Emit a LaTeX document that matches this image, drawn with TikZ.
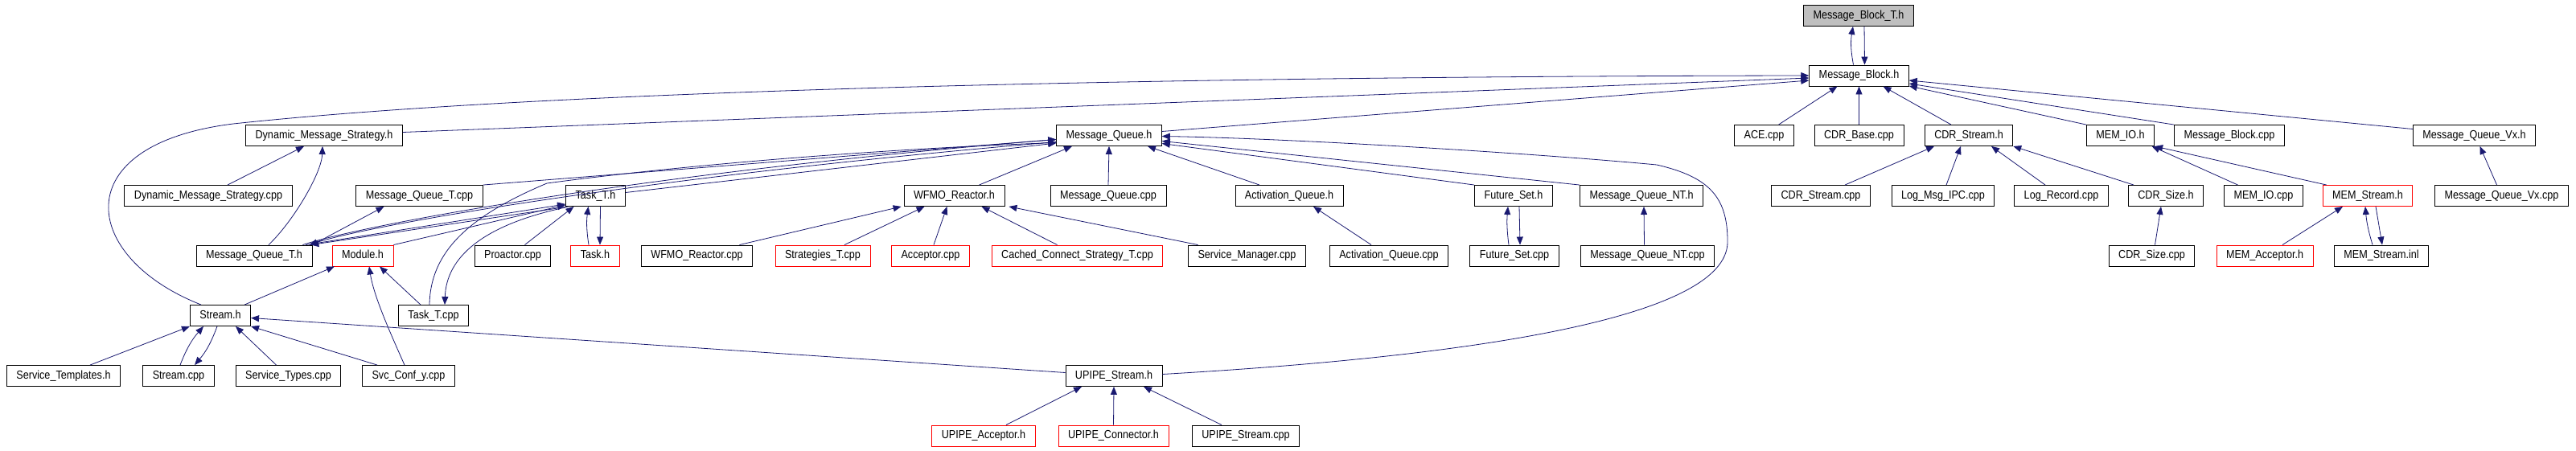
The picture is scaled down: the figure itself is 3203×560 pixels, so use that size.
\documentclass[tikz,border=0pt]{standalone}
\usepackage{fontspec}
\setmainfont{Liberation Sans}[FakeStretch=0.87]
\usetikzlibrary{arrows.meta}
\definecolor{edgeblue}{HTML}{191970}
\definecolor{boxred}{HTML}{FF0000}
\tikzset{
  filebox/.style={draw=black, line width=0.9pt, fill=white, minimum height=26pt,
    inner xsep=12pt, inner ysep=0pt, text height=10.5pt, text depth=3pt,
    font=\fontsize{14.5}{16}\selectfont}
}
\tikzset{
  redfile/.style={filebox, draw=boxred}
}
\tikzset{
  incl/.style={->, draw=edgeblue, line width=0.8pt}
}

\begin{document}
\begin{tikzpicture}[>={Triangle[length=10pt,width=8pt]}, x=1pt, y=-1pt]
  \useasboundingbox (0,0) rectangle (3203,560);
  % rows 0 and 1
  \node[filebox, fill=black!25] (mbt) at (2311,19.5) {Message\_Block\_T.h};
  \node[filebox] (mb) at (2311.5,94) {Message\_Block.h};
  % row 2
  \node[filebox] (dmsh)   at (403,168.5)  {Dynamic\_Message\_Strategy.h};
  \node[filebox] (mqh)    at (1379,168.5) {Message\_Queue.h};
  \node[filebox] (ace)    at (2193.5,168.5) {ACE.cpp};
  \node[filebox] (cdrbase) at (2311.5,168.5) {CDR\_Base.cpp};
  \node[filebox] (cdrh)   at (2448,168.5) {CDR\_Stream.h};
  \node[filebox] (memioh) at (2636.5,168.5) {MEM\_IO.h};
  \node[filebox] (mbcpp)  at (2772,168.5) {Message\_Block.cpp};
  \node[filebox] (mqvxh)  at (3076.5,168.5) {Message\_Queue\_Vx.h};
  % row 3
  \node[filebox] (dmscpp)   at (259,243.5)  {Dynamic\_Message\_Strategy.cpp};
  \node[filebox] (mqtcpp)   at (521.5,243.5) {Message\_Queue\_T.cpp};
  \node[filebox] (taskth)   at (740.5,243.5) {Task\_T.h};
  \node[filebox] (wfmoh)    at (1186.5,243.5) {WFMO\_Reactor.h};
  \node[filebox] (mqcpp)    at (1378,243.5) {Message\_Queue.cpp};
  \node[filebox] (actqh)    at (1603,243.5) {Activation\_Queue.h};
  \node[filebox] (fseth)    at (1882,243.5) {Future\_Set.h};
  \node[filebox] (mqnth)    at (2041,243.5) {Message\_Queue\_NT.h};
  \node[filebox] (cdrcpp)   at (2264,243.5) {CDR\_Stream.cpp};
  \node[filebox] (logipc)   at (2416,243.5) {Log\_Msg\_IPC.cpp};
  \node[filebox] (logrec)   at (2563,243.5) {Log\_Record.cpp};
  \node[filebox] (cdrsizeh) at (2693,243.5) {CDR\_Size.h};
  \node[filebox] (memiocpp) at (2814.5,243.5) {MEM\_IO.cpp};
  \node[redfile] (memsh)    at (2944,243.5) {MEM\_Stream.h};
  \node[filebox] (mqvxcpp)  at (3110.5,243.5) {Message\_Queue\_Vx.cpp};
  % row 4
  \node[filebox] (mqth)       at (316,318)  {Message\_Queue\_T.h};
  \node[redfile] (moduleh)    at (451,318)  {Module.h};
  \node[filebox] (proactor)   at (637.5,318) {Proactor.cpp};
  \node[redfile] (taskh)      at (740,318)  {Task.h};
  \node[filebox] (wfmocpp)    at (866.5,318) {WFMO\_Reactor.cpp};
  \node[redfile] (stratcpp)   at (1023,318) {Strategies\_T.cpp};
  \node[redfile] (acccpp)     at (1157,318) {Acceptor.cpp};
  \node[redfile] (cachedcpp)  at (1339.5,318) {Cached\_Connect\_Strategy\_T.cpp};
  \node[filebox] (svcmgr)     at (1550.5,318) {Service\_Manager.cpp};
  \node[filebox] (actqcpp)    at (1727,318) {Activation\_Queue.cpp};
  \node[filebox] (fsetcpp)    at (1883,318) {Future\_Set.cpp};
  \node[filebox] (mqntcpp)    at (2048.5,318) {Message\_Queue\_NT.cpp};
  \node[filebox] (cdrsizecpp) at (2675.5,318) {CDR\_Size.cpp};
  \node[redfile] (memacc)     at (2816,318) {MEM\_Acceptor.h};
  \node[filebox] (meminl)     at (2961,318) {MEM\_Stream.inl};
  % rows 5 to 7
  \node[filebox] (streamh)   at (274,392.5) {Stream.h};
  \node[filebox] (tasktcpp)  at (539,392.5) {Task\_T.cpp};
  \node[filebox] (svctmpl)   at (79,467.5)  {Service\_Templates.h};
  \node[filebox] (streamcpp) at (222,467.5) {Stream.cpp};
  \node[filebox] (svctypes)  at (358.5,467.5) {Service\_Types.cpp};
  \node[filebox] (svcconf)   at (508,467.5) {Svc\_Conf\_y.cpp};
  \node[filebox] (upipeh)    at (1385,467.5) {UPIPE\_Stream.h};
  \node[redfile] (upipeacc)  at (1223,542) {UPIPE\_Acceptor.h};
  \node[redfile] (upipecon)  at (1384.5,542) {UPIPE\_Connector.h};
  \node[filebox] (upipecpp)  at (1549,542) {UPIPE\_Stream.cpp};

  % into Message_Block_T.h and Message_Block.h
  \draw[incl] ([xshift=-7pt]mb.north) to[bend left=10] ([xshift=-7pt]mbt.south);
  \draw[incl] ([xshift=7pt]mbt.south) -- ([xshift=7pt]mb.north);
  \draw[incl] ([xshift=-24pt]streamh.north) .. controls (100,320) and (80,180) .. (290,154)
    .. controls (700,110) and (1500,95) .. (mb.west);
  \draw[incl] ([yshift=4pt]dmsh.east) -- ([yshift=-3pt]mb.west);
  \draw[incl] ([yshift=5pt]mqh.east) -- ([yshift=-6pt]mb.west);
  \draw[incl] ([xshift=18pt]ace.north) -- ([xshift=-27pt]mb.south);
  \draw[incl] (cdrbase.north) -- (mb.south);
  \draw[incl] ([xshift=-22pt]cdrh.north) -- ([xshift=30pt]mb.south);
  \draw[incl] (memioh.north west) -- ([yshift=-13pt]mb.east);
  \draw[incl] (mbcpp.north west) -- ([yshift=-10pt]mb.east);
  \draw[incl] ([yshift=8pt]mqvxh.west) -- ([yshift=-6pt]mb.east);

  % left part
  \draw[incl] ([xshift=24pt]dmscpp.north) -- ([xshift=-25pt]dmsh.south);
  \draw[incl] ([xshift=18pt]mqth.north) .. controls (365,275) and (400,215) .. ([xshift=-2pt]dmsh.south);
  \draw[incl] (mqtcpp.north east) -- ([yshift=-5pt]mqh.west);
  \draw[incl] ([xshift=-12pt]mqth.north east) .. controls (450,280) and (800,215) .. ([yshift=-5pt]mqh.west);
  \draw[incl] ([yshift=-8pt]mqh.west) .. controls (800,220) and (460,280) .. ([xshift=-4pt]mqth.north east);
  \draw[incl] ([yshift=4pt]taskth.east) -- ([yshift=-9.5pt]mqh.west);
  \draw[incl] ([xshift=-5pt]tasktcpp.north) .. controls (535,315) and (580,270) .. (680,228)
    .. controls (850,205) and (1100,185) .. ([yshift=-9pt]mqh.west);
  \draw[incl] (mqth.north east) -- ([xshift=-44pt]mqtcpp.south);
  \draw[incl] ([xshift=-8pt]mqth.north east) -- ([yshift=3pt]taskth.south west);
  \draw[incl] ([xshift=4pt]taskth.south west) -- ([xshift=-2pt]mqth.north east);
  \draw[incl] (moduleh.north east) -- ([yshift=2pt]taskth.south west);
  \draw[incl] ([xshift=15pt]proactor.north) -- ([xshift=-27pt]taskth.south);
  \draw[incl] ([xshift=-8pt]taskh.north) to[bend left=8] ([xshift=-9pt]taskth.south);
  \draw[incl] ([xshift=6pt]taskth.south) -- ([xshift=6pt]taskh.north);
  \draw[incl] ([yshift=-1pt]taskth.south west) .. controls (600,280) and (555,320) .. ([xshift=14pt]tasktcpp.north);
  \draw[incl] ([xshift=-16pt]tasktcpp.north) -- ([xshift=21pt]moduleh.south);
  \draw[incl] ([xshift=-8pt]streamh.north east) -- ([xshift=-35pt]moduleh.south);
  \draw[incl] ([xshift=-5pt]svcconf.north) .. controls (488,420) and (465,370) .. ([xshift=8pt]moduleh.south);
  \draw[incl] ([xshift=33pt]svctmpl.north) -- (streamh.south west);
  \draw[incl] ([xshift=2pt]streamcpp.north) to[bend left=10] ([xshift=-21pt]streamh.south);
  \draw[incl] ([xshift=-4pt]streamh.south) to[bend left=10] ([xshift=20pt]streamcpp.north);
  \draw[incl] ([xshift=-15pt]svctypes.north) -- ([xshift=19pt]streamh.south);
  \draw[incl] ([xshift=-39pt]svcconf.north) -- (streamh.south east);
  \draw[incl] ([yshift=4pt]upipeh.west) -- ([yshift=-3pt]streamh.east);

  % into Message_Queue.h
  \draw[incl] ([yshift=2pt]upipeh.east) .. controls (1800,445) and (2150,400) .. (2148,300)
    .. controls (2148,245) and (2125,220) .. (2060,205)
    .. controls (1900,190) and (1600,172) .. ([yshift=-1pt]mqh.east);
  \draw[incl] (mqnth.north west) -- ([yshift=-7pt]mqh.east);
  \draw[incl] (fseth.north west) -- ([yshift=-10pt]mqh.east);
  \draw[incl] ([xshift=-37pt]actqh.north) -- ([xshift=48pt]mqh.south);
  \draw[incl] ([xshift=31pt]wfmoh.north) -- ([xshift=-46pt]mqh.south);
  \draw[incl] (mqcpp.north) -- (mqh.south);
  \draw[incl] ([xshift=-7pt]fsetcpp.north) to[bend left=6] ([xshift=-7pt]fseth.south);
  \draw[incl] ([xshift=7pt]fseth.south) -- ([xshift=7pt]fsetcpp.north);
  \draw[incl] ([xshift=-4pt]mqntcpp.north) -- ([xshift=3pt]mqnth.south);
  \draw[incl] ([xshift=-22pt]actqcpp.north) -- ([xshift=30pt]actqh.south);

  % into WFMO_Reactor.h
  \draw[incl] ([xshift=53pt]wfmocpp.north) -- ([xshift=-3pt]wfmoh.south west);
  \draw[incl] ([xshift=27pt]stratcpp.north) -- ([xshift=-37pt]wfmoh.south);
  \draw[incl] ([xshift=4pt]acccpp.north) -- ([xshift=-9pt]wfmoh.south);
  \draw[incl] ([xshift=-25pt]cachedcpp.north) -- ([xshift=34pt]wfmoh.south);
  \draw[incl] ([xshift=-61pt]svcmgr.north) -- ([xshift=5pt]wfmoh.south east);

  % right part
  \draw[incl] ([xshift=30pt]cdrcpp.north) -- ([xshift=-43pt]cdrh.south);
  \draw[incl] ([xshift=4pt]logipc.north) -- ([xshift=-10pt]cdrh.south);
  \draw[incl] ([xshift=-20pt]logrec.north) -- ([xshift=28pt]cdrh.south);
  \draw[incl] ([xshift=-40pt]cdrsizeh.north) -- (cdrh.south east);
  \draw[incl] ([xshift=4pt]cdrsizecpp.north) -- ([xshift=-6pt]cdrsizeh.south);
  \draw[incl] ([xshift=-32pt]memiocpp.north) -- ([xshift=39pt]memioh.south);
  \draw[incl] ([xshift=5pt]memsh.north west) -- (memioh.south east);
  \draw[incl] ([xshift=-6pt]mqvxcpp.north) -- ([xshift=7pt]mqvxh.south);
  \draw[incl] ([xshift=22pt]memacc.north) -- ([xshift=-31pt]memsh.south);
  \draw[incl] ([xshift=-11pt]meminl.north) to[bend left=6] ([xshift=-3pt]memsh.south);
  \draw[incl] ([xshift=10pt]memsh.south) -- ([xshift=1pt]meminl.north);

  % into UPIPE_Stream.h
  \draw[incl] ([xshift=28pt]upipeacc.north) -- ([xshift=-40pt]upipeh.south);
  \draw[incl] (upipecon.north) -- (upipeh.south);
  \draw[incl] ([xshift=-30pt]upipecpp.north) -- ([xshift=37pt]upipeh.south);
\end{tikzpicture}
\end{document}
